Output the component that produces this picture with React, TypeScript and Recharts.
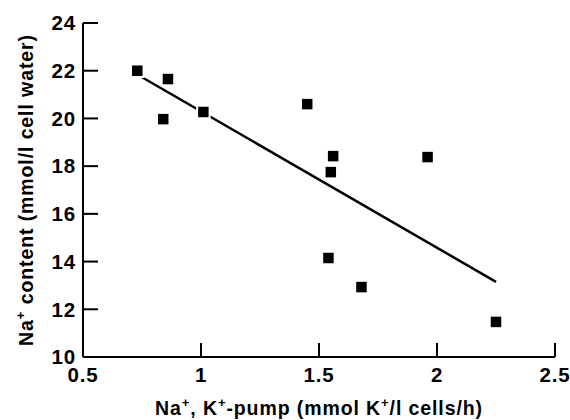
import React from 'react';
import { ScatterChart, Scatter, XAxis, YAxis, Label } from 'recharts';

const pumpRate = [0.73, 0.86, 0.84, 1.01, 1.45, 1.56, 1.55, 1.96, 1.54, 1.68, 2.25];
const naContent = [22.0, 21.65, 19.97, 20.27, 20.6, 18.42, 17.75, 18.38, 14.15, 12.93, 11.47];
const fitX = [0.73, 2.25];
const fitY = [21.84, 13.15];
const xTicks = [0.5, 1, 1.5, 2, 2.5];
const yTicks = [10, 12, 14, 16, 18, 20, 22, 24];

const points = pumpRate.map((x, i) => ({ x, y: naContent[i] }));
const fit = fitX.map((x, i) => ({ x, y: fitY[i] }));

const FONT = '"Liberation Sans", Arial, Helvetica, sans-serif';

const Square = (props: any) => {
  const { cx, cy } = props;
  const s = 12.5;
  return <rect x={cx - s / 2} y={cy - s / 2} width={s} height={s} fill="#000" stroke="#fff" strokeWidth={2} />;
};

const Empty = () => <g />;

const XLabel = (props: any) => {
  const { viewBox } = props;
  const cx = viewBox.x + viewBox.width / 2;
  const y = viewBox.y + 58;
  return (
    <text x={cx} y={y} textAnchor="middle" fontFamily={FONT} fontWeight="bold" fontSize={19.5} letterSpacing={0.9} fill="#000">
      <tspan>Na</tspan>
      <tspan dy={-8} fontSize={13}>+</tspan>
      <tspan dy={8}>, K</tspan>
      <tspan dy={-8} fontSize={13}>+</tspan>
      <tspan dy={8}>-pump (mmol K</tspan>
      <tspan dy={-8} fontSize={13}>+</tspan>
      <tspan dy={8}>/l cells/h)</tspan>
    </text>
  );
};

const YLabel = (props: any) => {
  const { viewBox } = props;
  const x = 33;
  const cy = viewBox.y + viewBox.height / 2;
  return (
    <text x={x} y={cy} textAnchor="middle" transform={`rotate(-90, ${x}, ${cy})`} fontFamily={FONT} fontWeight="bold" fontSize={19.5} letterSpacing={0.9} fill="#000">
      <tspan>Na</tspan>
      <tspan dy={-8} fontSize={13}>+</tspan>
      <tspan dy={8}> content (mmol/l cell water)</tspan>
    </text>
  );
};

export default function App() {
  const tickStyle = { fill: '#000', fontSize: 20.5, fontWeight: 'bold', fontFamily: FONT, letterSpacing: 0.8 };
  return (
    <div style={{ position: 'absolute', left: 0, top: 0, width: 570, height: 420, background: '#fff' }}>
      <ScatterChart width={570} height={420} margin={{ top: 23, right: 15, bottom: 0, left: 0 }}>
        <XAxis
          type="number"
          dataKey="x"
          domain={[0.5, 2.5]}
          ticks={xTicks}
          height={63}
          tickSize={-14}
          tickMargin={24}
          axisLine={{ stroke: '#000', strokeWidth: 2 }}
          tickLine={{ stroke: '#000', strokeWidth: 2 }}
          tick={tickStyle}
          allowDataOverflow
        >
          <Label content={<XLabel />} />
        </XAxis>
        <YAxis
          type="number"
          dataKey="y"
          domain={[10, 24]}
          ticks={yTicks}
          width={83}
          tickSize={-15}
          tickMargin={22}
          axisLine={{ stroke: '#000', strokeWidth: 2 }}
          tickLine={{ stroke: '#000', strokeWidth: 2 }}
          tick={tickStyle}
          allowDataOverflow
        >
          <Label content={<YLabel />} />
        </YAxis>
        <Scatter data={fit} line={{ stroke: '#000', strokeWidth: 2.5 }} shape={<Empty />} isAnimationActive={false} />
        <Scatter data={points} shape={<Square />} isAnimationActive={false} />
      </ScatterChart>
    </div>
  );
}
